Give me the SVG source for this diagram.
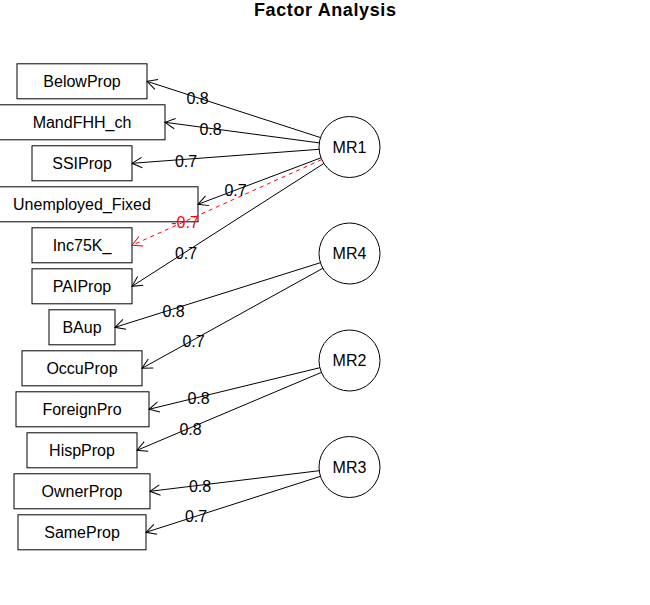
<svg xmlns="http://www.w3.org/2000/svg" width="650" height="605" viewBox="0 0 650 605">
<defs>
<style>
text{font-family:"Liberation Sans",Arial,sans-serif;font-size:16px;fill:#000}
.box rect{fill:#fff;stroke:#000;stroke-width:1}
.box text{text-anchor:middle}
.fac circle{fill:#fff;stroke:#000;stroke-width:1}
.fac text{text-anchor:middle}
.e{stroke:#000;stroke-width:1;fill:none;marker-end:url(#ah)}
.neg{stroke:#f00;stroke-dasharray:4,4;marker-end:url(#ahr)}
.lbl{text-anchor:middle}
.lbl.r{fill:#f00}
.title{font-weight:bold;font-size:18px;text-anchor:middle}
</style>
<marker id="ah" markerUnits="userSpaceOnUse" orient="auto" markerWidth="14" markerHeight="14" refX="0" refY="0" viewBox="-12 -7 14 14" overflow="visible">
<path d="M-10,-5.2 L0,0 L-10,5.2" fill="none" stroke="#000" stroke-width="1"/>
</marker>
<marker id="ahr" markerUnits="userSpaceOnUse" orient="auto" markerWidth="14" markerHeight="14" refX="0" refY="0" viewBox="-12 -7 14 14" overflow="visible">
<path d="M-10,-5.2 L0,0 L-10,5.2" fill="none" stroke="#f00" stroke-width="1"/>
</marker>
</defs>
<rect width="650" height="605" fill="#fff"/>
<text class="title" x="325" y="16" textLength="142" lengthAdjust="spacing">Factor Analysis</text>

<g id="BelowProp" class="box"><rect x="17" y="63.8" width="130" height="35"/><text x="82" y="86.8">BelowProp</text></g>
<g id="MandFHH_ch" class="box"><rect x="-1" y="104.8" width="166" height="35"/><text x="82" y="127.8">MandFHH_ch</text></g>
<g id="SSIProp" class="box"><rect x="32" y="145.8" width="100" height="35"/><text x="82" y="168.8">SSIProp</text></g>
<g id="Unemployed_Fixed" class="box"><rect x="-34" y="186.8" width="232" height="35"/><text x="82" y="209.8">Unemployed_Fixed</text></g>
<g id="Inc75K_" class="box"><rect x="32" y="227.8" width="100" height="35"/><text x="82" y="250.8">Inc75K_</text></g>
<g id="PAIProp" class="box"><rect x="32" y="268.8" width="100" height="35"/><text x="82" y="291.8">PAIProp</text></g>
<g id="BAup" class="box"><rect x="49" y="309.8" width="66" height="35"/><text x="82" y="332.8">BAup</text></g>
<g id="OccuProp" class="box"><rect x="22" y="350.8" width="120" height="35"/><text x="82" y="373.8">OccuProp</text></g>
<g id="ForeignPro" class="box"><rect x="16" y="391.8" width="133" height="35"/><text x="82" y="414.8">ForeignPro</text></g>
<g id="HispProp" class="box"><rect x="27" y="432.8" width="110" height="35"/><text x="82" y="455.8">HispProp</text></g>
<g id="OwnerProp" class="box"><rect x="14" y="473.8" width="136" height="35"/><text x="82" y="496.8">OwnerProp</text></g>
<g id="SameProp" class="box"><rect x="18" y="514.8" width="128" height="35"/><text x="82" y="537.8">SameProp</text></g>

<g id="MR1" class="fac"><circle cx="349.5" cy="147" r="30.5"/><text x="349.5" y="152.8">MR1</text></g>
<g id="MR4" class="fac"><circle cx="349.5" cy="253.5" r="30.5"/><text x="349.5" y="259.3">MR4</text></g>
<g id="MR2" class="fac"><circle cx="349.5" cy="360.5" r="30.5"/><text x="349.5" y="366.3">MR2</text></g>
<g id="MR3" class="fac"><circle cx="349.5" cy="467" r="30.5"/><text x="349.5" y="472.8">MR3</text></g>

<g id="connectors">
<line class="e" x1="320.5" y1="137.6" x2="147" y2="81.3"/>
<line class="e" x1="319.3" y1="142.9" x2="165" y2="122.3"/>
<line class="e" x1="319.1" y1="149.3" x2="132" y2="163.3"/>
<line class="e" x1="321" y1="157.8" x2="198" y2="204.3"/>
<line class="e neg" x1="321.7" y1="159.6" x2="132" y2="245.3"/>
<line class="e" x1="323.8" y1="163.5" x2="132" y2="286.3"/>
<line class="e" x1="320.4" y1="262.7" x2="115" y2="327.3"/>
<line class="e" x1="322.8" y1="268.3" x2="142" y2="368.3"/>
<line class="e" x1="319.9" y1="367.7" x2="149" y2="409.3"/>
<line class="e" x1="321.4" y1="372.4" x2="137" y2="450.3"/>
<line class="e" x1="319.3" y1="470.7" x2="150" y2="491.3"/>
<line class="e" x1="320.5" y1="476.3" x2="146" y2="532.3"/>
<text class="lbl" x="197.5" y="104.3">0.8</text>
<text class="lbl" x="210.5" y="134.8">0.8</text>
<text class="lbl" x="186" y="166.8">0.7</text>
<text class="lbl" x="235.5" y="196.3">0.7</text>
<text class="lbl r" x="185" y="227.5">-0.7</text>
<text class="lbl" x="186" y="258.8">0.7</text>
<text class="lbl" x="173.5" y="316.8">0.8</text>
<text class="lbl" x="193.5" y="346.5">0.7</text>
<text class="lbl" x="198.5" y="403.8">0.8</text>
<text class="lbl" x="190.5" y="434.8">0.8</text>
<text class="lbl" x="200" y="491.5">0.8</text>
<text class="lbl" x="196" y="521.8">0.7</text>
</g>
</svg>
